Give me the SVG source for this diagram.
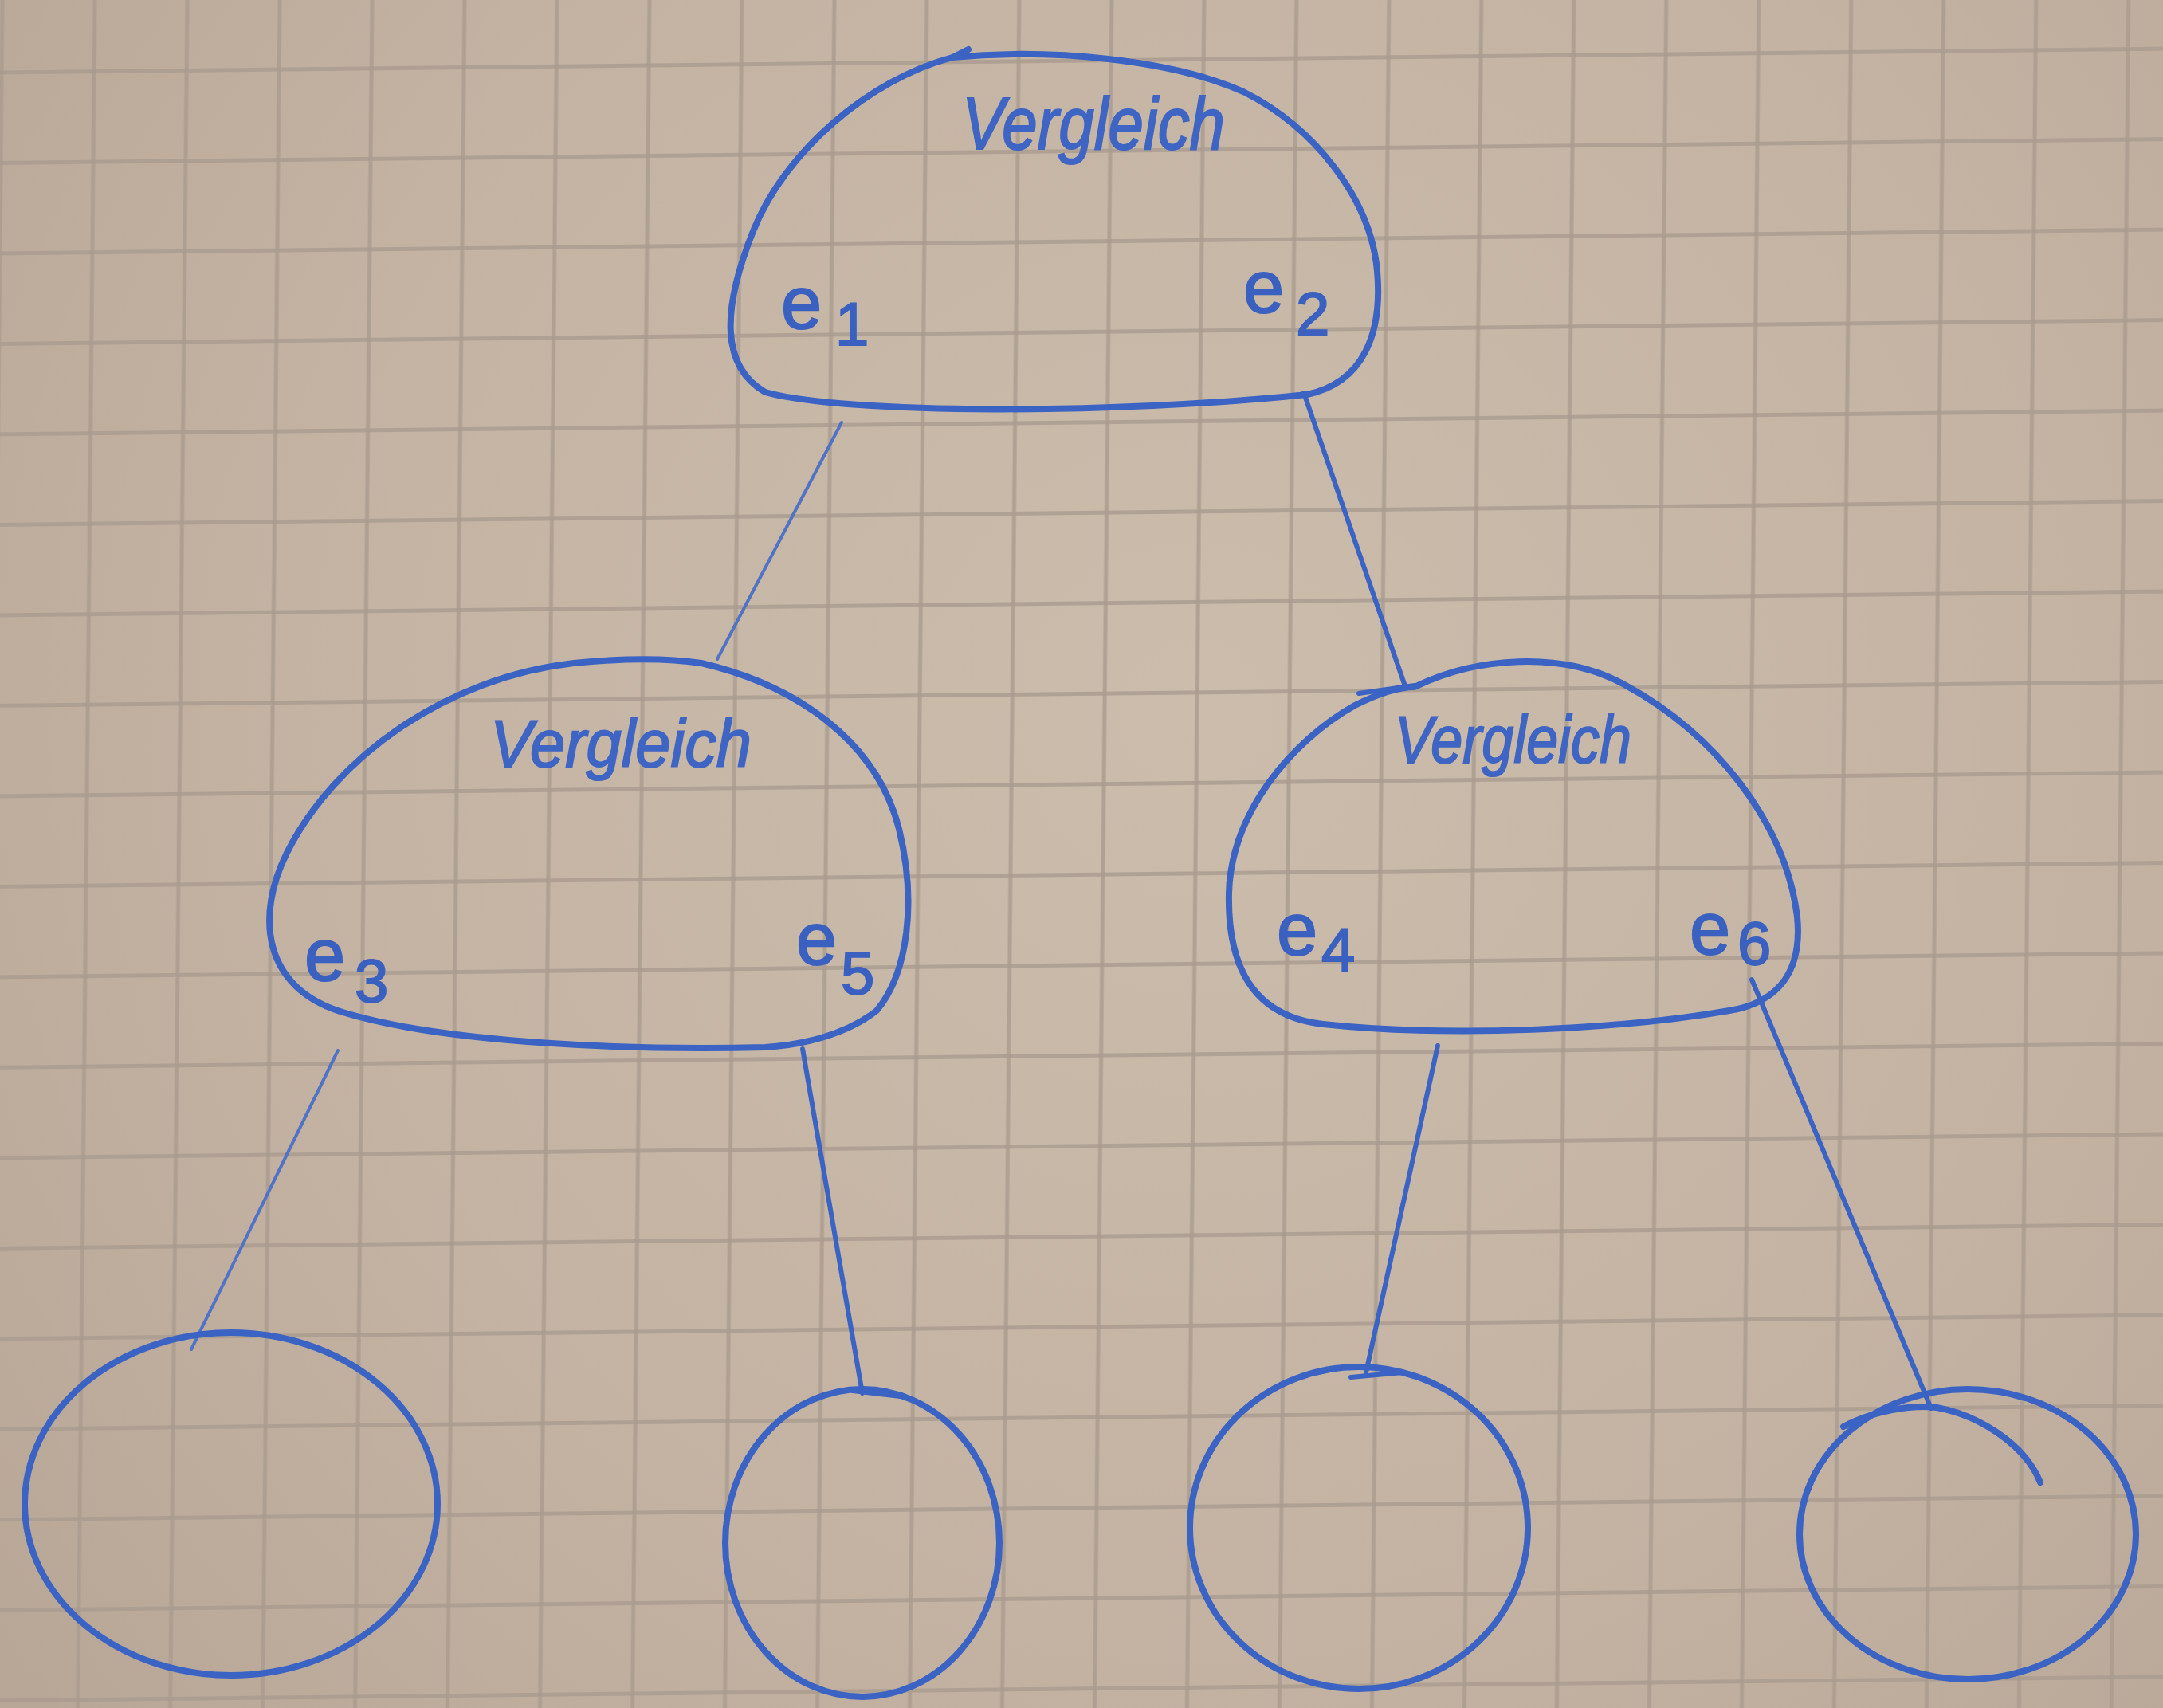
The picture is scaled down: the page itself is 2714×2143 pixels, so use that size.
<svg xmlns="http://www.w3.org/2000/svg" width="2714" height="2143" viewBox="0 0 2714 2143">
<defs>
<radialGradient id="paper" cx="1500" cy="900" r="1900" gradientUnits="userSpaceOnUse">
<stop offset="0" stop-color="#cbbcab"/>
<stop offset="0.6" stop-color="#c4b3a2"/>
<stop offset="1" stop-color="#b8a796"/>
</radialGradient>
<pattern id="grid" width="116" height="113.5" patternUnits="userSpaceOnUse" patternTransform="matrix(1,-0.011,-0.01,1,-10,0)">
<line x1="13" y1="0" x2="13" y2="113.5" stroke="#a99b8e" stroke-width="5" stroke-opacity="0.8"/>
<line x1="0" y1="91" x2="116" y2="91" stroke="#a99b8e" stroke-width="5" stroke-opacity="0.8"/>
</pattern>
<style>
.ink{fill:none;stroke:#3b63c4;stroke-width:8;stroke-linecap:round;stroke-linejoin:round}
.thin{fill:none;stroke:#5073c6;stroke-width:4;stroke-linecap:round}
.conn{fill:none;stroke:#3b63c4;stroke-width:6;stroke-linecap:round}
.word{font-family:"Liberation Sans",Arial,sans-serif;font-style:italic;fill:#3f65c4;stroke:#3f65c4;stroke-width:2}
.lab{font-family:"Liberation Sans",Arial,sans-serif;font-size:92px;fill:#3a60c0;stroke:#3a60c0;stroke-width:2}
.sub{font-size:76px}
</style>
</defs>
<rect width="2714" height="2143" fill="url(#paper)"/>
<rect width="2714" height="2143" fill="url(#grid)"/>

<g id="connectors">
<line class="thin" x1="1056" y1="530" x2="900" y2="827"/>
<path class="conn" d="M1636,493 L1762,858 M1705,870 L1775,860"/>
<line class="thin" x1="424" y1="1318" x2="240" y2="1693"/>
<path class="conn" d="M1007,1316 L1082,1748 M1070,1745 L1130,1752"/>
<path class="conn" d="M1804,1312 L1714,1722 M1695,1728 L1760,1722"/>
<line class="conn" x1="2198" y1="1229" x2="2423" y2="1767"/>
</g>

<g id="node-top">
<path class="ink" d="M1195,72 C1090,100 985,190 945,290 C905,390 905,460 960,492 C1060,520 1400,520 1640,495 C1710,480 1735,420 1728,340 C1720,250 1650,160 1560,115 C1470,75 1320,60 1195,72 M1195,72 L1215,62"/>
<text class="word" x="1207" y="187" font-size="92" textLength="330" lengthAdjust="spacingAndGlyphs">Vergleich</text>
<text class="lab" x="980" y="412">e<tspan class="sub" x="1048" y="433">1</tspan></text>
<text class="lab" x="1560" y="392">e<tspan class="sub" x="1626" y="420">2</tspan></text>
</g>

<g id="node-left">
<path class="ink" d="M880,832 C1000,860 1100,930 1128,1040 C1150,1130 1140,1220 1100,1268 C1060,1300 1000,1312 960,1314 C800,1318 560,1310 430,1270 C330,1240 320,1150 360,1070 C420,950 560,850 720,832 C790,825 840,826 880,832 Z"/>
<text class="word" x="615" y="962" font-size="84" textLength="328" lengthAdjust="spacingAndGlyphs">Vergleich</text>
<text class="lab" x="382" y="1230">e<tspan class="sub" x="445" y="1257">3</tspan></text>
<text class="lab" x="999" y="1210">e<tspan class="sub" x="1055" y="1247">5</tspan></text>
</g>

<g id="node-right">
<path class="ink" d="M1775,862 C1850,825 1960,815 2040,860 C2150,920 2240,1030 2255,1150 C2262,1220 2230,1258 2170,1268 C2030,1292 1820,1302 1660,1285 C1570,1275 1540,1210 1542,1120 C1545,1020 1620,930 1700,885 C1730,870 1755,862 1775,862 Z"/>
<text class="word" x="1750" y="957" font-size="84" textLength="297" lengthAdjust="spacingAndGlyphs">Vergleich</text>
<text class="lab" x="1602" y="1198">e<tspan class="sub" x="1658" y="1218">4</tspan></text>
<text class="lab" x="2120" y="1197">e<tspan class="sub" x="2180" y="1210">6</tspan></text>
</g>

<g id="leaf-1">
<ellipse class="ink" cx="290" cy="1887" rx="259" ry="215"/>
</g>
<g id="leaf-2">
<ellipse class="ink" cx="1082" cy="1936" rx="172" ry="193"/>
</g>
<g id="leaf-3">
<ellipse class="ink" cx="1705" cy="1917" rx="212" ry="202"/>
</g>
<g id="leaf-4">
<ellipse class="ink" cx="2469" cy="1925" rx="211" ry="182"/>
<path class="ink" d="M2313,1790 C2350,1770 2400,1762 2430,1766 C2480,1775 2540,1810 2560,1860"/>
</g>
</svg>
